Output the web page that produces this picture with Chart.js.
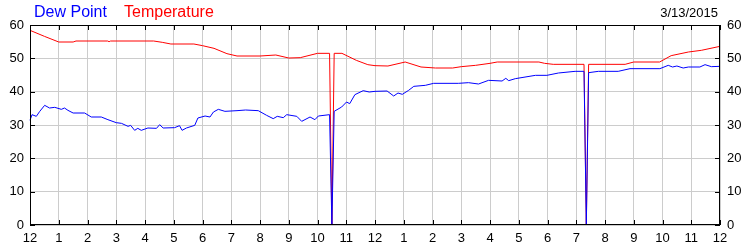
<!DOCTYPE html>
<html>
<head>
<meta charset="utf-8">
<script src="https://cdn.jsdelivr.net/npm/chart.js@4.4.1/dist/chart.umd.min.js"></script>
<style>
  html, body { margin: 0; padding: 0; background: #fff; }
  #wrap { width: 750px; height: 250px; }
</style>
</head>
<body>
<div id="wrap"><canvas id="wx" width="750" height="250"></canvas></div>
<script>
// hours since midnight, values in °F
const tempHours = [0, 0.5, 1.0, 1.5, 1.6, 2.7, 2.75, 2.8, 4.3, 4.6, 4.9, 5.7, 6.0, 6.4, 6.85, 7.2, 8.0, 8.55, 9.0, 9.4,
  10.0, 10.42, 10.5, 10.58, 10.85, 11.35, 11.75, 12.0, 12.45, 13.05, 13.6, 14.1, 14.7, 15.0, 15.5, 16.0, 16.25,
  17.7, 17.9, 18.2, 19.27, 19.35, 19.43, 20.7, 21.0, 21.9, 22.3, 22.9, 23.35, 24];
const tempValues = [58.4, 56.6, 54.9, 54.9, 55.2, 55.2, 55.0, 55.2, 55.2, 54.8, 54.3, 54.3, 53.8, 53.0, 51.4, 50.7, 50.7, 51.0, 50.1, 50.2,
  51.5, 51.5, 0, 51.5, 51.5, 49.4, 48.1, 47.8, 47.7, 48.9, 47.4, 47.1, 47.1, 47.5, 47.9, 48.5, 48.9,
  48.9, 48.5, 48.2, 48.2, 0, 48.2, 48.2, 48.9, 48.9, 50.8, 51.9, 52.4, 53.6];

const dewHours = [0, 0.07, 0.22, 0.34, 0.51, 0.68, 0.86, 1.09, 1.2, 1.32, 1.5, 1.9, 2.13, 2.48, 2.71, 3.0, 3.18, 3.41, 3.5, 3.64,
  3.75, 3.87, 4.1, 4.4, 4.51, 4.63, 5.03, 5.2, 5.29, 5.44, 5.73, 5.84, 6.09, 6.26, 6.38, 6.55, 6.78, 7.2, 7.5, 7.94,
  8.23, 8.46, 8.6, 8.81, 8.93, 9.28, 9.45, 9.74, 9.91, 10.03, 10.42, 10.5, 10.58, 10.84, 11.01, 11.12, 11.3, 11.59, 11.8, 12.0,
  12.42, 12.65, 12.8, 12.95, 13.17, 13.35, 13.75, 14.04, 14.9, 15.25, 15.6, 15.95, 16.42, 16.55, 16.65, 16.88, 17.58, 17.98, 18.38, 18.96,
  19.27, 19.35, 19.43, 19.77, 20.46, 20.87, 21.91, 22.2, 22.35, 22.5, 22.72, 22.9, 23.3, 23.48, 23.7, 24];
const dewValues = [31.4, 33.1, 32.6, 34.1, 35.9, 35.1, 35.3, 34.7, 35.1, 34.4, 33.6, 33.6, 32.4, 32.4, 31.6, 30.7, 30.5, 29.6, 29.9, 28.4,
  29.0, 28.4, 29.1, 29.0, 30.1, 29.1, 29.2, 29.8, 28.4, 29.1, 29.9, 32.1, 32.7, 32.4, 33.9, 34.7, 34.1, 34.3, 34.5, 34.3,
  32.9, 31.9, 32.6, 32.2, 33.1, 32.6, 31.1, 32.4, 31.6, 32.7, 33.1, 0, 34.1, 35.4, 36.9, 36.4, 39.1, 40.3, 39.9, 40.1,
  40.2, 38.7, 39.6, 39.2, 40.4, 41.6, 41.9, 42.5, 42.5, 42.7, 42.3, 43.4, 43.2, 44.0, 43.3, 43.9, 44.9, 44.9, 45.6, 46.1,
  46.1, 0, 45.7, 46.1, 46.1, 46.9, 46.9, 47.9, 47.4, 47.7, 47.1, 47.4, 47.4, 48.1, 47.5, 47.6];

const hourLabels = ['12', '1', '2', '3', '4', '5', '6', '7', '8', '9', '10', '11',
  '12', '1', '2', '3', '4', '5', '6', '7', '8', '9', '10', '11', '12'];
const yTicks = [0, 10, 20, 30, 40, 50, 60];
const dateLabel = '3/13/2015';

const FONT = "'Liberation Sans', Arial, sans-serif";

function pts(xs, ys) {
  return xs.map((h, i) => ({ x: h, y: ys[i] }));
}

// frame, inward tick marks, header texts
const framePlugin = {
  id: 'frame',
  afterDraw(chart) {
    const { ctx, chartArea: a, scales } = chart;
    ctx.save();
    ctx.strokeStyle = '#000';
    ctx.lineWidth = 1;
    ctx.strokeRect(a.left + 0.5, a.top + 0.5, a.right - a.left - 1, a.bottom - a.top - 1);
    ctx.beginPath();
    hourLabels.forEach((_, i) => {
      const px = Math.round(scales.x.getPixelForValue(i)) + 0.5;
      ctx.moveTo(px, a.top); ctx.lineTo(px, a.top + 5);
      ctx.moveTo(px, a.bottom); ctx.lineTo(px, a.bottom - 5);
    });
    yTicks.forEach(v => {
      const py = Math.round(scales.y.getPixelForValue(v)) + 0.5;
      ctx.moveTo(a.left, py); ctx.lineTo(a.left + 5, py);
      ctx.moveTo(a.right, py); ctx.lineTo(a.right - 5, py);
    });
    ctx.stroke();

    ctx.textBaseline = 'alphabetic';
    ctx.font = '16px ' + FONT;
    ctx.textAlign = 'left';
    ctx.fillStyle = '#0000ff';
    ctx.fillText('Dew Point', 34, 17);
    ctx.fillStyle = '#ff0000';
    ctx.fillText('Temperature', 124, 17);
    ctx.font = '13px ' + FONT;
    ctx.fillStyle = '#000';
    ctx.textAlign = 'right';
    ctx.fillText(dateLabel, 718, 17);
    ctx.restore();
  }
};

const tickFont = { family: FONT, size: 13 };

new Chart(document.getElementById('wx'), {
  type: 'line',
  data: {
    datasets: [
      { label: 'Dew Point', data: pts(dewHours, dewValues), borderColor: '#0000ff', borderWidth: 1, pointRadius: 0, tension: 0, clip: 2 },
      { label: 'Temperature', data: pts(tempHours, tempValues), borderColor: '#ff0000', borderWidth: 1, pointRadius: 0, tension: 0, clip: 2 }
    ]
  },
  options: {
    responsive: false,
    animation: false,
    devicePixelRatio: 1,
    layout: { padding: { top: 25, left: 0, right: 0, bottom: 0 } },
    plugins: { legend: { display: false }, tooltip: { enabled: false } },
    scales: {
      x: {
        type: 'linear', min: 0, max: 24,
        afterFit: s => { s.height = 25; },
        grid: { color: '#cccccc', drawTicks: false },
        border: { display: false },
        ticks: { stepSize: 1, autoSkip: false, maxRotation: 0, padding: 6, color: '#000', font: tickFont,
          callback: v => hourLabels[v] }
      },
      y: {
        position: 'left', min: 0, max: 60,
        afterFit: s => { s.width = 30; },
        grid: { color: '#cccccc', drawTicks: false },
        border: { display: false },
        ticks: { stepSize: 10, padding: 6, color: '#000', font: tickFont }
      },
      y2: {
        position: 'right', min: 0, max: 60,
        afterFit: s => { s.width = 30; },
        grid: { display: false, drawTicks: false },
        border: { display: false },
        ticks: { stepSize: 10, padding: 7, color: '#000', font: tickFont }
      }
    }
  },
  plugins: [framePlugin]
});
</script>
</body>
</html>
